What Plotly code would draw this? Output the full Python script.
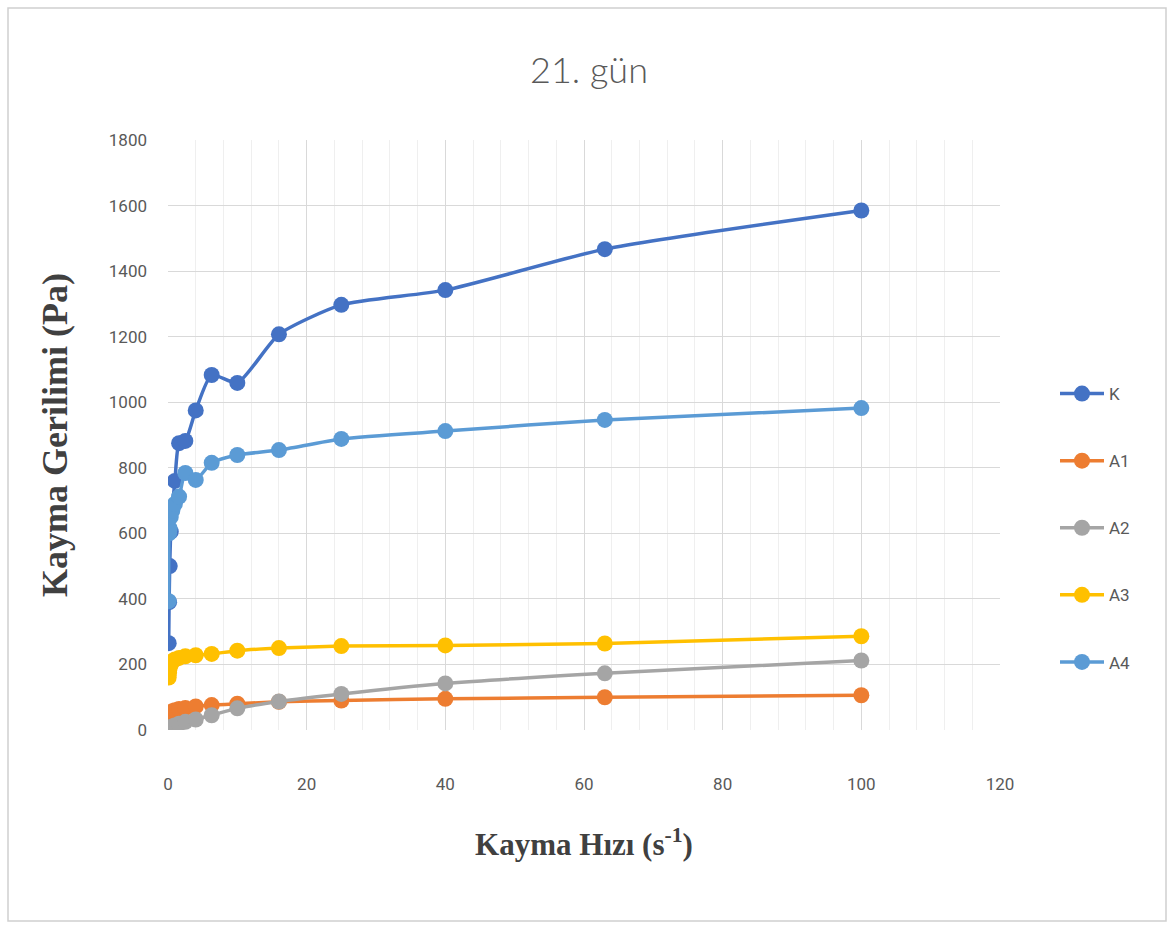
import plotly.graph_objects as go

shear_rate = [0.1, 0.16, 0.25, 0.4, 0.63, 1, 1.6, 2.5, 4, 6.3, 10, 16, 25, 40, 63, 100]

K  = [265, 390, 500, 605, 680, 760, 875, 882, 975, 1083, 1059, 1207, 1297, 1342, 1467, 1585]
A1 = [35, 42, 48, 53, 57, 60, 64, 67, 72, 76, 80, 86, 90, 95, 100, 106]
A2 = [2, 4, 6, 8, 11, 14, 19, 25, 32, 45, 66, 87, 110, 142, 173, 212]
A3 = [160, 175, 190, 200, 210, 215, 220, 225, 228, 232, 242, 250, 256, 258, 264, 286]
A4 = [393, 600, 615, 650, 670, 690, 712, 784, 763, 815, 839, 854, 888, 912, 946, 982]

series_names = ["K", "A1", "A2", "A3", "A4"]
series_values = [K, A1, A2, A3, A4]
colors = ["#4472C4", "#ED7D31", "#A5A5A5", "#FFC000", "#5B9BD5"]

x_ticks = [0, 20, 40, 60, 80, 100, 120]
y_ticks = [0, 200, 400, 600, 800, 1000, 1200, 1400, 1600, 1800]

fig = go.Figure()
for name, vals, col in zip(series_names, series_values, colors):
    fig.add_trace(go.Scatter(
        x=shear_rate, y=vals, name=name, mode="lines+markers",
        line=dict(color=col, width=3.5, shape="spline", smoothing=0.6),
        marker=dict(color=col, size=16),
        legendgroup=name,
    ))

W, H = 1174, 928
ml, mr, mt, mb = 168, 174, 140, 198
pw, ph = W - ml - mr, H - mt - mb

def px2paper_x(p):
    return (p - ml) / pw

def px2paper_y(p):
    return (H - mb - p) / ph

tick_font = dict(family="Roboto, Noto Sans", size=17, color="#595959")

fig.update_layout(
    width=W, height=H,
    margin=dict(l=ml, r=mr, t=mt, b=mb),
    paper_bgcolor="white", plot_bgcolor="white",
    title=dict(text="21. gün", x=589 / W, xanchor="center", y=1 - 70 / H, yanchor="middle",
               font=dict(family="Lato", size=36, color="#595959", weight=300)),
    xaxis=dict(
        range=[0, 120], tickvals=x_ticks, ticktext=[str(v) for v in x_ticks],
        showgrid=True, gridcolor="#D9D9D9", gridwidth=1,
        minor=dict(dtick=4, showgrid=True, gridcolor="#EFEFEF", gridwidth=1),
        zeroline=False, showline=False, ticks="",
        tickfont=tick_font, ticklabelstandoff=42,
        title=dict(text="Kayma Hızı (s<sup>-1</sup>)", standoff=40,
                   font=dict(family="Liberation Serif", size=31, color="#404040", weight="bold")),
    ),
    yaxis=dict(
        range=[0, 1800], tickvals=y_ticks, ticktext=[str(v) for v in y_ticks],
        showgrid=True, gridcolor="#D9D9D9", gridwidth=1,
        zeroline=False, showline=False, ticks="",
        tickfont=tick_font, ticklabelstandoff=20,
        title=dict(text="Kayma Gerilimi (Pa)", standoff=30,
                   font=dict(family="Liberation Serif", size=36, color="#404040", weight="bold")),
    ),
    legend=dict(x=px2paper_x(1055), xanchor="left", y=px2paper_y(376), yanchor="top",
                font=dict(family="Roboto, Noto Sans", size=17, color="#595959"),
                tracegroupgap=42, itemwidth=44, bgcolor="rgba(0,0,0,0)"),
    showlegend=True,
)

fig.add_shape(type="rect", xref="paper", yref="paper",
              x0=px2paper_x(8), x1=px2paper_x(1166), y0=px2paper_y(921), y1=px2paper_y(8),
              line=dict(color="#D0D0D0", width=1.5), fillcolor="rgba(0,0,0,0)", layer="below")

fig.write_html("out.html")
